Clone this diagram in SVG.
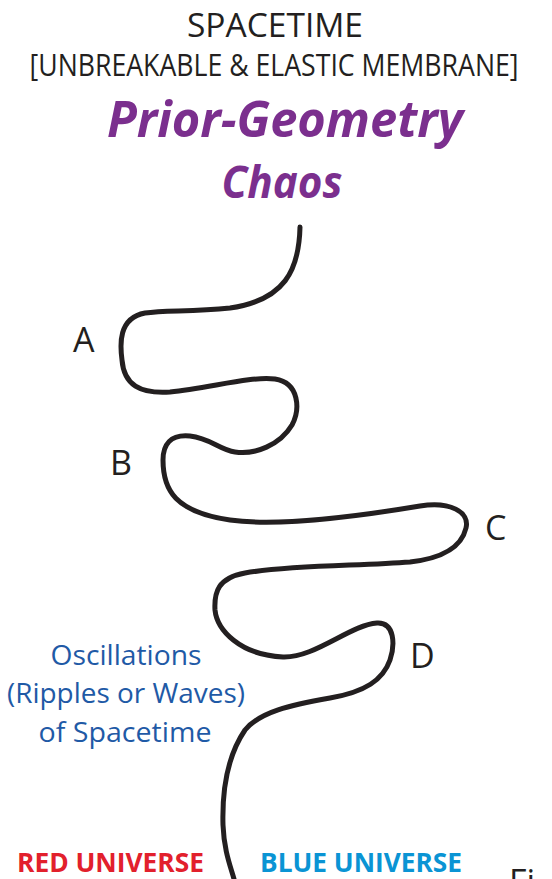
<svg xmlns="http://www.w3.org/2000/svg" width="552" height="879" viewBox="0 0 552 879">
<style>
.t{font-family:"Open Sans","Noto Sans",sans-serif;fill:#231f20;text-anchor:middle}
.p{font-family:"Open Sans","Noto Sans",sans-serif;font-weight:bold;font-style:italic;fill:#7b2f8e;text-anchor:middle}
.lbl{font-family:"Open Sans","Noto Sans",sans-serif;fill:#231f20;font-size:34px}
.osc{font-family:"Open Sans","Noto Sans",sans-serif;fill:#1f5aa6;font-size:27px;text-anchor:middle}
.u{font-family:"Open Sans","Noto Sans",sans-serif;font-weight:bold;font-size:27px}
.wave{fill:none;stroke:#231f20;stroke-width:5;stroke-linecap:round;stroke-linejoin:round}
</style>
<rect width="552" height="879" fill="#ffffff"/>
<g id="title">
<text class="t" x="275" y="37" font-size="33" textLength="176" lengthAdjust="spacingAndGlyphs">SPACETIME</text>
<text class="t" x="274" y="76" font-size="31" textLength="489" lengthAdjust="spacingAndGlyphs">[UNBREAKABLE &amp; ELASTIC MEMBRANE]</text>
<text class="p" x="285" y="137" font-size="50" textLength="356" lengthAdjust="spacingAndGlyphs">Prior-Geometry</text>
<text class="p" x="282" y="198" font-size="45" textLength="121" lengthAdjust="spacingAndGlyphs">Chaos</text>
</g>
<g id="connectors">
<path class="wave" d="M300,227 C299,270 285,300 230,308 C190,312 165,310 145,313 C118,318 120,345 122,360 C124,385 140,394 170,392 C210,388 250,376 275,379 C300,383 300,410 292,425 C280,445 255,455 235,452 C220,450 210,438 190,436 C170,434 163,445 163,460 C163,490 175,512 230,520 C280,527 360,516 420,506 C450,501 470,512 466,528 C462,545 445,558 410,562 C360,566 290,565 245,573 C218,578 214,592 215,610 C217,630 240,655 283,657 C315,658 350,625 377,623 C395,622 395,645 390,660 C383,680 365,692 330,698 C290,705 260,712 245,730 C228,755 222,790 223,825 C224,850 230,865 234,879"/>
</g>
<g id="label-A"><text class="lbl" x="73" y="352">A</text></g>
<g id="label-B"><text class="lbl" x="110" y="475">B</text></g>
<g id="label-C"><text class="lbl" x="485" y="540">C</text></g>
<g id="label-D"><text class="lbl" x="410" y="668">D</text></g>
<g id="oscillations">
<text class="osc" x="126" y="665" textLength="151" lengthAdjust="spacingAndGlyphs">Oscillations</text>
<text class="osc" x="126" y="703" textLength="238" lengthAdjust="spacingAndGlyphs">(Ripples or Waves)</text>
<text class="osc" x="125" y="742" textLength="173" lengthAdjust="spacingAndGlyphs">of Spacetime</text>
</g>
<g id="red-universe"><text class="u" x="17" y="872" fill="#e2202c" textLength="187" lengthAdjust="spacingAndGlyphs">RED UNIVERSE</text></g>
<g id="blue-universe"><text class="u" x="260" y="872" fill="#0a94d4" textLength="202" lengthAdjust="spacingAndGlyphs">BLUE UNIVERSE</text></g>
<g id="fig"><text class="lbl" x="509" y="894" font-size="22" fill="#3a3a3a">Fi</text></g>
</svg>
